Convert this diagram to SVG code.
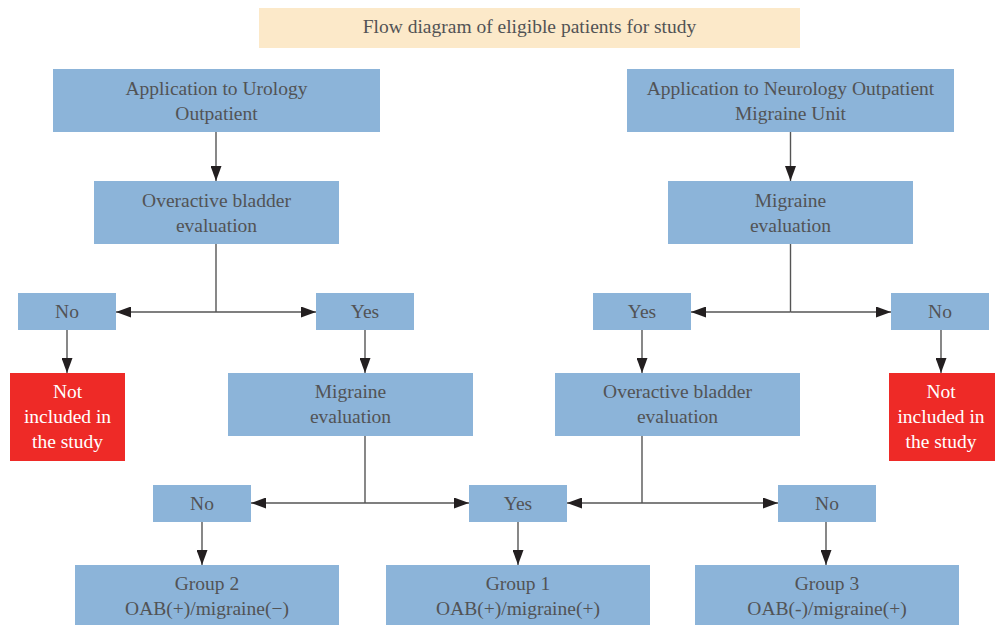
<svg xmlns="http://www.w3.org/2000/svg" width="995" height="625" viewBox="0 0 995 625">
<defs>
<style>
.b{fill:#8CB4D9}
.r{fill:#EE2A27}
.t{font-family:"Liberation Serif","DejaVu Serif",serif;font-size:19.5px;fill:#525355;text-anchor:middle}
.w{fill:#FFFFFF}
.c{stroke:#555555;stroke-width:1.4;fill:none}
</style>
<marker id="ah" markerWidth="15" markerHeight="11" refX="15" refY="5.5" orient="auto" markerUnits="userSpaceOnUse">
<path d="M0,0 L15,5.5 L0,11 Z" fill="#231F20"/>
</marker>
</defs>
<rect width="995" height="625" fill="#FFFFFF"/>
<g id="title">
<rect x="259" y="8" width="541" height="40" fill="#FCE9C9"/>
<text class="t" x="529.5" y="33">Flow diagram of eligible patients for study</text>
</g>
<g id="connectors">
<path class="c" d="M216,132 V181" marker-end="url(#ah)"/>
<path class="c" d="M790.5,132 V181" marker-end="url(#ah)"/>
<path class="c" d="M216,244 V312"/>
<path class="c" d="M216,312 H116" marker-end="url(#ah)"/>
<path class="c" d="M216,312 H316" marker-end="url(#ah)"/>
<path class="c" d="M790.5,244 V312"/>
<path class="c" d="M790.5,312 H691" marker-end="url(#ah)"/>
<path class="c" d="M790.5,312 H891" marker-end="url(#ah)"/>
<path class="c" d="M67,330 V373" marker-end="url(#ah)"/>
<path class="c" d="M365,330 V373" marker-end="url(#ah)"/>
<path class="c" d="M642,330 V373" marker-end="url(#ah)"/>
<path class="c" d="M941,330 V373" marker-end="url(#ah)"/>
<path class="c" d="M365,436 V503"/>
<path class="c" d="M365,503 H251" marker-end="url(#ah)"/>
<path class="c" d="M365,503 H469" marker-end="url(#ah)"/>
<path class="c" d="M642,436 V503"/>
<path class="c" d="M642,503 H567" marker-end="url(#ah)"/>
<path class="c" d="M642,503 H778" marker-end="url(#ah)"/>
<path class="c" d="M202,522 V565" marker-end="url(#ah)"/>
<path class="c" d="M518,522 V565" marker-end="url(#ah)"/>
<path class="c" d="M826,522 V565" marker-end="url(#ah)"/>
</g>
<g id="urology">
<rect class="b" x="53" y="69" width="327" height="63"/>
<text class="t" x="216.5" y="95">Application to Urology</text>
<text class="t" x="216.5" y="120">Outpatient</text>
</g>
<g id="neurology">
<rect class="b" x="627" y="69" width="327" height="63"/>
<text class="t" x="790.5" y="95">Application to Neurology Outpatient</text>
<text class="t" x="790.5" y="120">Migraine Unit</text>
</g>
<g id="oab-eval-1">
<rect class="b" x="94" y="181" width="245" height="63"/>
<text class="t" x="216.5" y="207">Overactive bladder</text>
<text class="t" x="216.5" y="232">evaluation</text>
</g>
<g id="mig-eval-1">
<rect class="b" x="668" y="181" width="245" height="63"/>
<text class="t" x="790.5" y="207">Migraine</text>
<text class="t" x="790.5" y="232">evaluation</text>
</g>
<g id="no-1">
<rect class="b" x="18" y="293" width="98" height="37"/>
<text class="t" x="67" y="318">No</text>
</g>
<g id="yes-1">
<rect class="b" x="316" y="293" width="98" height="37"/>
<text class="t" x="365" y="318">Yes</text>
</g>
<g id="yes-2">
<rect class="b" x="593" y="293" width="98" height="37"/>
<text class="t" x="642" y="318">Yes</text>
</g>
<g id="no-2">
<rect class="b" x="891" y="293" width="98" height="37"/>
<text class="t" x="940" y="318">No</text>
</g>
<g id="excluded-1">
<rect class="r" x="10" y="373" width="115" height="88"/>
<text class="t w" x="67.5" y="398">Not</text>
<text class="t w" x="67.5" y="423">included in</text>
<text class="t w" x="67.5" y="448">the study</text>
</g>
<g id="mig-eval-2">
<rect class="b" x="228" y="373" width="245" height="63"/>
<text class="t" x="350.5" y="398">Migraine</text>
<text class="t" x="350.5" y="423">evaluation</text>
</g>
<g id="oab-eval-2">
<rect class="b" x="555" y="373" width="245" height="63"/>
<text class="t" x="677.5" y="398">Overactive bladder</text>
<text class="t" x="677.5" y="423">evaluation</text>
</g>
<g id="excluded-2">
<rect class="r" x="889" y="373" width="106" height="88"/>
<text class="t w" x="941" y="398">Not</text>
<text class="t w" x="941" y="423">included in</text>
<text class="t w" x="941" y="448">the study</text>
</g>
<g id="no-3">
<rect class="b" x="153" y="485" width="98" height="37"/>
<text class="t" x="202" y="510">No</text>
</g>
<g id="yes-3">
<rect class="b" x="469" y="485" width="98" height="37"/>
<text class="t" x="518" y="510">Yes</text>
</g>
<g id="no-4">
<rect class="b" x="778" y="485" width="98" height="37"/>
<text class="t" x="827" y="510">No</text>
</g>
<g id="group2">
<rect class="b" x="75" y="565" width="264" height="60"/>
<text class="t" x="207" y="590">Group 2</text>
<text class="t" x="207" y="615">OAB(+)/migraine(−)</text>
</g>
<g id="group1">
<rect class="b" x="386" y="565" width="264" height="60"/>
<text class="t" x="518" y="590">Group 1</text>
<text class="t" x="518" y="615">OAB(+)/migraine(+)</text>
</g>
<g id="group3">
<rect class="b" x="695" y="565" width="264" height="60"/>
<text class="t" x="827" y="590">Group 3</text>
<text class="t" x="827" y="615">OAB(-)/migraine(+)</text>
</g>
</svg>
